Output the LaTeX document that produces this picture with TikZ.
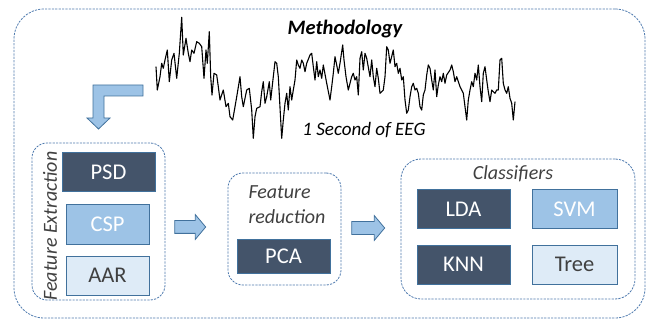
\documentclass[tikz,border=0pt]{standalone}
\usepackage{fontspec}
\setmainfont{Carlito}
\usetikzlibrary{shapes.arrows}
\definecolor{darkfill}{HTML}{44546A}
\definecolor{midfill}{HTML}{9DC3E6}
\definecolor{palefill}{HTML}{DEEBF7}
\definecolor{boxline}{HTML}{41719C}
\definecolor{frameline}{HTML}{4E7AAE}
\definecolor{labelgray}{HTML}{404040}
\tikzset{
  frame/.style={draw=frameline, line width=0.8pt, dash pattern=on 2.2pt off 1.2pt, rounded corners=#1, inner sep=0pt},
  algbox/.style={draw=boxline, line width=1pt, inner sep=0pt, font=\fontsize{22.5}{25}\selectfont},
  darkbox/.style={algbox, fill=darkfill, text=white},
  midbox/.style={algbox, fill=midfill, text=white},
  palebox/.style={algbox, fill=palefill, text=labelgray},
  blockarrow/.style={single arrow, draw=boxline, fill=midfill, line width=0.8pt, inner xsep=0pt, inner ysep=6pt,
    single arrow head extend=6pt, single arrow tip angle=100},
  grouplabel/.style={text=labelgray, font=\fontsize{20}{25}\selectfont\itshape, inner sep=0pt},
}
\begin{document}
\begin{tikzpicture}[x=1pt,y=-1pt]
\useasboundingbox (0,0) rectangle (647,320);
% outer frame
\node[frame=30pt, minimum width=631pt, minimum height=309pt] (outer) at (329.5,163.5) {};
\node[font=\fontsize{20.5}{23}\selectfont\bfseries\itshape, inner sep=0pt] (title) at (345,29) {Methodology};
% EEG trace
\draw[line width=1.1pt, line join=round] (156,66.7) -- (157.3,90) -- (160,76.7) -- (161.7,63.3) -- (163.3,68.3) -- (165,60) -- (167.3,50) -- (169.3,81.7) -- (171.7,60) -- (174,53.3) -- (176.7,78.3) -- (179.3,53.3) -- (181.7,17.3) -- (183.3,55) -- (186,38.3) -- (188.3,53.3) -- (190,61.7) -- (191.7,50) -- (194,53.3) -- (196.7,41.7) -- (199.3,43.3) -- (201.7,46.7) -- (204,78.3) -- (206,50) -- (207.3,63.3) -- (209.3,31.7) -- (210.7,76.7) -- (212,95) -- (214,73.3) -- (216.7,75) -- (218.3,86.7) -- (220,100) -- (223.3,90) -- (226,106.7) -- (228.3,103.3) -- (230,116.7) -- (232.7,120) -- (235,106.7) -- (237.3,93.3) -- (240,76.7) -- (241.7,96.7) -- (243.3,106.7) -- (246.7,90) -- (249.3,88.3) -- (251.7,110) -- (253.3,138.3) -- (255,116.7) -- (256.7,108.3) -- (260,106.7) -- (261.7,91.7) -- (263.3,81.7) -- (265,103.3) -- (266.7,96.7) -- (269.3,81.7) -- (270.7,100) -- (273.3,76.7) -- (275,61.7) -- (276.7,63.3) -- (278.3,76.7) -- (281.7,138.3) -- (283.3,120) -- (285,103.3) -- (286.7,93.3) -- (288.3,110) -- (290,86.7) -- (291.7,100) -- (293.3,90) -- (295,80) -- (296.7,60) -- (298.3,65) -- (300,68.3) -- (301.7,60) -- (303.3,63.3) -- (305,71.7) -- (306.7,63.3) -- (310,55) -- (311.7,53.3) -- (313.3,66.7) -- (315,80) -- (316.7,61.7) -- (318.3,76.7) -- (320,70) -- (321.7,78.3) -- (323.3,65) -- (326.7,83.3) -- (330,100) -- (331.7,86.7) -- (333.3,73.3) -- (335,56.7) -- (336.7,65) -- (338.3,73.3) -- (340,63.3) -- (342.7,45) -- (344,60) -- (346,76.7) -- (348.3,90) -- (350,83.3) -- (351.7,76.7) -- (353.3,73.3) -- (355,80) -- (356.7,76.7) -- (358.3,95) -- (360,58.3) -- (361.7,51.7) -- (363.3,70) -- (365,53.3) -- (366.7,58.3) -- (370,76.7) -- (371.7,60) -- (373.3,76.7) -- (375,86.7) -- (376.7,68.3) -- (378.3,78.3) -- (380,93.3) -- (383.3,90) -- (385,76.7) -- (386.7,46.7) -- (388.3,50) -- (390,63.3) -- (393.3,50) -- (395,66.7) -- (396.7,63.3) -- (398.3,73.3) -- (400,68.3) -- (401.7,80) -- (403.3,76.7) -- (405,100) -- (406.7,113.3) -- (408.3,110) -- (410,96.7) -- (411.7,86.7) -- (413.3,83.3) -- (415,90) -- (416.7,88.3) -- (418.3,93.3) -- (420,106.7) -- (421.7,110) -- (423.3,95) -- (425,90) -- (426.7,75) -- (428.3,65) -- (430,68.3) -- (431.7,80) -- (433.3,90) -- (435,70) -- (436.7,96.7) -- (438.3,85) -- (440,76.7) -- (441.7,81.7) -- (443.3,73.3) -- (445,83.3) -- (446.7,75) -- (450,70) -- (451.7,65) -- (453.3,71.7) -- (455,81.7) -- (456.7,76.7) -- (460,86.7) -- (463.3,93.3) -- (466.7,120) -- (468.3,100) -- (470,90) -- (471.7,81.7) -- (473.3,86.7) -- (475,73.3) -- (476.7,80) -- (478.3,65) -- (480,86.7) -- (481.7,101.7) -- (483.3,73.3) -- (485,66.7) -- (486.7,80) -- (488.3,91.7) -- (490,101.7) -- (491.7,90) -- (493.3,91.7) -- (495,93.3) -- (496.7,90) -- (498.3,90) -- (500,60) -- (501.7,58.3) -- (503.3,83.3) -- (505,90) -- (506.7,93.3) -- (508.3,86.7) -- (510,98.3) -- (511.7,103.3) -- (513.3,120) -- (515,101.7);
\node[font=\fontsize{19}{22}\selectfont\itshape, inner sep=0pt] (eeglabel) at (364,130) {1 Second of EEG};
% bent arrow
\draw[draw=boxline, fill=midfill, line width=0.8pt, line join=miter]
  (143,85) -- (93,85) -- (93,118) -- (87,118) -- (98.5,129) -- (110,118) -- (104,118) -- (104,96) -- (143,96) -- cycle;
% Feature extraction group
\node[frame=15pt, minimum width=133pt, minimum height=157pt] (fe) at (98.5,221.5) {};
\node[grouplabel, rotate=90] (felabel) at (50,226) {Feature Extraction};
\node[darkbox, minimum width=93pt, minimum height=39pt] (psd) at (108.5,172.5) {PSD};
\node[midbox, minimum width=83pt, minimum height=39pt] (csp) at (107.5,224.5) {CSP};
\node[palebox, minimum width=83pt, minimum height=39pt] (aar) at (107.5,275.5) {AAR};
% Feature reduction group
\node[frame=15pt, minimum width=113pt, minimum height=112pt] (fr) at (284.5,229) {};
\node[grouplabel, align=left] (frlabel) at (287,205) {Feature\\reduction};
\node[darkbox, minimum width=93pt, minimum height=34pt] (pca) at (283.5,256) {PCA};
% Classifiers group
\node[frame=20pt, minimum width=234pt, minimum height=140pt] (cl) at (518,229) {};
\node[grouplabel] (cllabel) at (513,174) {Classifiers};
\node[darkbox, minimum width=93pt, minimum height=39pt] (lda) at (463.5,209.5) {LDA};
\node[midbox, minimum width=85pt, minimum height=39pt] (svm) at (574.5,209.5) {SVM};
\node[darkbox, minimum width=93pt, minimum height=39pt] (knn) at (463.5,264.5) {KNN};
\node[palebox, minimum width=85pt, minimum height=39pt] (tree) at (574.5,264.5) {Tree};
% block arrows
\node[blockarrow, minimum height=31pt] (arr1) at (187.5,227) {};
\node[blockarrow, minimum height=33pt] (arr2) at (365.5,228) {};
\end{tikzpicture}
\end{document}
